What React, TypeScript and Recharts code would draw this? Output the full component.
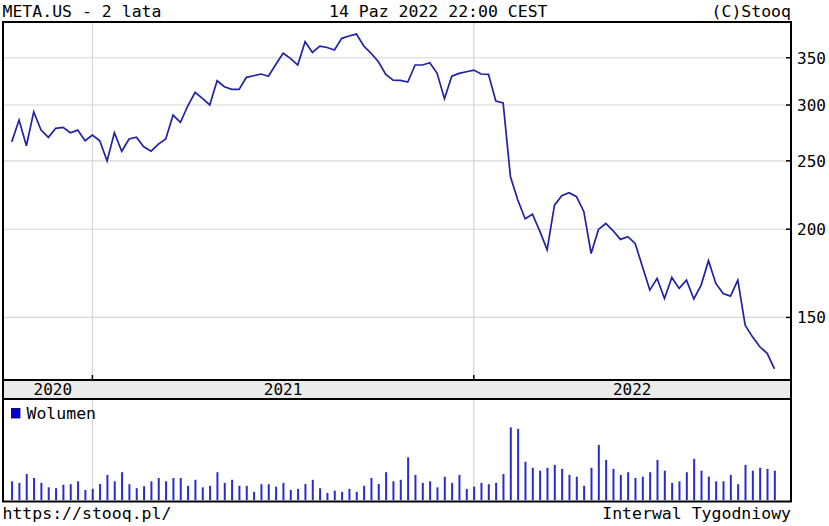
import React from 'react';
import { LineChart, Line, XAxis, YAxis, CartesianGrid, BarChart, Bar } from 'recharts';

const FONT = '"DejaVu Sans Mono", "Liberation Mono", monospace';

// Weekly closes, META.US, week of 2020-10-16 .. 2022-10-14
const closes = [
  266, 285.6, 262.6, 293.4, 276.4, 269.9, 278, 278.9, 274, 276.4,
  267, 272, 267, 250, 274, 258, 268.5, 270, 261.8, 258,
  264, 268.5, 290.3, 283.5, 299, 312.6, 306.6, 300, 324.7, 318.4,
  315.7, 315.7, 328.3, 330, 331.9, 329.5, 342.3, 355.1, 349.3, 341.8,
  368.8, 356.2, 363.6, 361.9, 358.9, 372.9, 375.7, 378.1, 363.6, 355.1,
  345.5, 331.5, 325.4, 325.1, 323.3, 341.8, 341.8, 344.3, 332.6, 306.2,
  329.5, 332.6, 334.4, 336.2, 331.9, 331.5, 303.9, 302.1, 237.4, 220,
  207, 210.1, 198.8, 187, 216.4, 223.1, 225.3, 222.4, 212, 184.8,
  199.9, 203.8, 199, 193.5, 195.2, 191, 177, 164, 170.4, 159.6,
  170.9, 164.9, 169.4, 159.3, 166.7, 180.5, 167.6, 162.2, 160.8, 169.4,
  146.3, 140.8, 136.3, 133.4, 126.8,
];

// Weekly volume (millions of shares)
const volumes = [
  84, 77, 117, 99, 77, 57, 53, 69, 71, 84,
  45, 50, 72, 113, 84, 125, 71, 53, 62, 84,
  99, 84, 99, 99, 64, 91, 57, 64, 125, 77,
  91, 64, 64, 37, 71, 71, 60, 77, 45, 50,
  72, 91, 53, 32, 42, 37, 50, 37, 64, 99,
  72, 125, 84, 91, 192, 113, 77, 84, 57, 105,
  77, 113, 50, 60, 77, 71, 77, 117, 327, 320,
  172, 145, 132, 145, 158, 140, 113, 105, 64, 145,
  248, 180, 140, 113, 125, 99, 105, 125, 180, 132,
  77, 84, 125, 185, 132, 105, 84, 84, 113, 71,
  158, 132, 145, 140, 132,
];

const priceTicks = [150, 200, 250, 300, 350];
const yearStarts = [11, 63];
const yearLabels = ['2020', '2021', '2022'];
const yearLabelPos = [5.6, 37, 84.6];

const priceData = closes.map((c, i) => ({ i, close: c }));
const volumeData = volumes.map((v, i) => ({ i, vol: v }));

const X_DOMAIN: [number, number] = [-1.19, 106.25];
const Y_DOMAIN: [number, number] = [122.3, 393.3];
const V_DOMAIN: [number, number] = [0, 450];

const GRID = '#d6d6d6';
const LINE = '#2121a6';
const BAR = '#2a2ad0';

const BottomTick = (props: any) => {
  const { x, y, payload } = props;
  const k = yearLabelPos.indexOf(payload.value);
  if (k >= 0) {
    return (
      <text x={x} y={y} dy={15} textAnchor="middle" fontFamily={FONT} fontSize={16} fill="#000">
        {yearLabels[k]}
      </text>
    );
  }
  return <line x1={x} x2={x} y1={y - 5} y2={y} stroke="#000" strokeWidth={1.5} />;
};

const TopTick = (props: any) => {
  const { x, y } = props;
  return <line x1={x} x2={x} y1={y} y2={y + 5} stroke="#000" strokeWidth={1.5} />;
};

const RightTick = (props: any) => {
  const { x, y, payload } = props;
  return (
    <g>
      <line x1={x - 5} x2={x} y1={y} y2={y} stroke="#000" strokeWidth={1.5} />
      <text x={x + 6} y={y} dy={6} fontFamily={FONT} fontSize={16} fill="#000">
        {payload.value}
      </text>
    </g>
  );
};

const LeftTick = (props: any) => {
  const { x, y } = props;
  return <line x1={x} x2={x + 4} y1={y} y2={y} stroke="#000" strokeWidth={1.5} />;
};

export default function App() {
  return (
    <div
      style={{
        position: 'absolute',
        left: 0,
        top: 0,
        width: 829,
        height: 526,
        background: '#fff',
        overflow: 'hidden',
      }}
    >
      <svg width={829} height={526} style={{ position: 'absolute', left: 0, top: 0 }}>
        <rect x={3} y={380} width={788} height={19} fill="#ebebeb" />
      </svg>

      <div style={{ position: 'absolute', left: 0, top: 0 }}>
        <LineChart width={829} height={399} data={priceData} margin={{ top: 22, right: 0, left: 3, bottom: 0 }}>
          <CartesianGrid xAxisId="top" stroke={GRID} strokeWidth={1.2} />
          <XAxis
            type="number"
            dataKey="i"
            domain={X_DOMAIN}
            allowDataOverflow
            ticks={[yearLabelPos[0], yearStarts[0], yearLabelPos[1], yearStarts[1], yearLabelPos[2]]}
            interval={0}
            height={19}
            tickSize={0}
            tickMargin={0}
            tickLine={false}
            axisLine={false}
            tick={BottomTick}
          />
          <XAxis
            xAxisId="top"
            orientation="top"
            type="number"
            dataKey="i"
            domain={X_DOMAIN}
            allowDataOverflow
            ticks={yearStarts}
            interval={0}
            height={0}
            tickSize={0}
            tickMargin={0}
            tickLine={false}
            axisLine={false}
            tick={TopTick}
          />
          <YAxis
            orientation="right"
            scale="log"
            domain={Y_DOMAIN}
            allowDataOverflow
            ticks={priceTicks}
            interval={0}
            width={38}
            tickSize={0}
            tickMargin={0}
            tickLine={false}
            axisLine={false}
            tick={RightTick}
          />
          <YAxis
            yAxisId="l"
            orientation="left"
            scale="log"
            domain={Y_DOMAIN}
            allowDataOverflow
            ticks={priceTicks}
            interval={0}
            width={0}
            tickSize={0}
            tickMargin={0}
            tickLine={false}
            axisLine={false}
            tick={LeftTick}
          />
          <Line
            type="linear"
            dataKey="close"
            stroke={LINE}
            strokeWidth={1.7}
            dot={false}
            activeDot={false}
            isAnimationActive={false}
          />
        </LineChart>
      </div>

      <div style={{ position: 'absolute', left: 0, top: 399 }}>
        <BarChart width={829} height={127} data={volumeData} margin={{ top: 1, right: 38, left: 3, bottom: 26 }}>
          <CartesianGrid xAxisId="top" horizontal={false} stroke={GRID} strokeWidth={1.2} />
          <XAxis type="number" dataKey="i" domain={X_DOMAIN} allowDataOverflow hide />
          <XAxis
            xAxisId="top"
            orientation="top"
            type="number"
            dataKey="i"
            domain={X_DOMAIN}
            allowDataOverflow
            ticks={yearStarts}
            interval={0}
            height={0}
            tickSize={0}
            tickMargin={0}
            tickLine={false}
            axisLine={false}
            tick={TopTick}
          />
          <YAxis domain={V_DOMAIN} allowDataOverflow hide />
          <Bar dataKey="vol" fill={BAR} barSize={2} isAnimationActive={false} />
        </BarChart>
      </div>

      <svg width={829} height={526} style={{ position: 'absolute', left: 0, top: 0, pointerEvents: 'none' }}>
        <rect x={3} y={22} width={788} height={479.5} fill="none" stroke="#000" strokeWidth={2} />
        <line x1={3} x2={791} y1={380} y2={380} stroke="#000" strokeWidth={2} />
        <line x1={3} x2={791} y1={399} y2={399} stroke="#000" strokeWidth={2} />
        <g fontFamily={FONT} fontSize={16.5} fill="#000">
          <text x={2.5} y={16.7}>META.US - 2 lata</text>
          <text x={329} y={16.7}>14 Paz 2022 22:00 CEST</text>
          <text x={791} y={16.7} textAnchor="end">(C)Stooq</text>
          <text x={2.5} y={519}>https://stooq.pl/</text>
          <text x={791} y={519} textAnchor="end">Interwal Tygodniowy</text>
          <rect x={11.5} y={408.5} width={8.5} height={9.5} fill="#0000d0" stroke="#000040" strokeWidth={0.8} />
          <text x={26.5} y={419}>Wolumen</text>
        </g>
      </svg>
    </div>
  );
}
